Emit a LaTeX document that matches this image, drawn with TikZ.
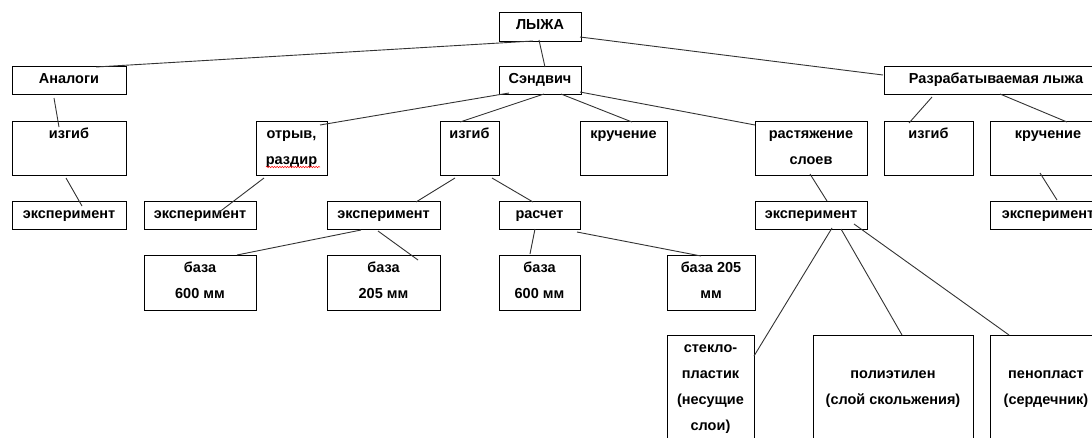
\documentclass[tikz,border=0pt]{standalone}
\usepackage{fontspec}
\setmainfont{Liberation Sans}
\usetikzlibrary{decorations.pathmorphing}
\tikzset{
  bx/.style={draw=black, line width=1pt, inner sep=0pt, outer sep=0pt, anchor=north west,
    font=\bfseries\fontsize{14.5}{26}\selectfont},
  ln/.style={draw=black!80, line width=0.9pt},
  squig/.style={draw=red, line width=0.5pt, decorate, decoration={snake, amplitude=0.7pt, segment length=2.6pt}}
}
\newcommand{\bxn}[6]{\node[bx] (#1) at (#2,#3) {\parbox[t][#5pt][t]{#4pt}{\centering\rule{0pt}{17.5pt}#6}};}
\newcommand{\cn}[6]{\draw[ln] ([shift={(#2,#3)}]#1.north west) -- ([shift={(#5,#6)}]#4.north west);}
\begin{document}
\begin{tikzpicture}[x=1pt,y=-1pt]
\useasboundingbox (0,0) rectangle (1092,437);
\fill[white] (0,0) rectangle (1092,437);
\clip (0,0) rectangle (1092,437);
% row 1
\bxn{lyzha}{499}{12}{82}{29}{ЛЫЖА}
% row 2
\bxn{analogi}{12}{66}{114}{28}{Аналоги}
\bxn{sandwich}{499}{66}{82}{28}{Сэндвич}
\bxn{razr}{884}{66}{224}{28}{Разрабатываемая лыжа}
% row 3
\bxn{izgibA}{12}{121}{114}{54}{изгиб}
\bxn{otryv}{256}{121}{71}{54}{отрыв,\\раздир}
\bxn{izgibS}{440}{121}{59}{54}{изгиб}
\bxn{kruchS}{580}{121}{87}{54}{кручение}
\bxn{rast}{755}{121}{112}{54}{растяжение\\слоев}
\bxn{izgibR}{884}{121}{89}{54}{изгиб}
\bxn{kruchR}{990}{121}{116}{54}{кручение}
% row 4
\bxn{ekspA}{12}{201}{114}{28}{эксперимент}
\bxn{ekspO}{144}{201}{112}{28}{эксперимент}
\bxn{ekspI}{327}{201}{113}{28}{эксперимент}
\bxn{raschet}{499}{201}{81}{28}{расчет}
\bxn{ekspR}{755}{201}{112}{28}{эксперимент}
\bxn{ekspK}{990}{201}{116}{28}{эксперимент}
% row 5
\bxn{baza1}{144}{255}{112}{55}{база\\600 мм}
\bxn{baza2}{327}{255}{113}{55}{база\\205 мм}
\bxn{baza3}{499}{255}{81}{55}{база\\600 мм}
\bxn{baza4}{667}{255}{88}{55}{база 205\\мм}
% row 6
\bxn{steklo}{667}{335}{87}{120}{стекло-\\пластик\\(несущие\\слои)}
\bxn{poly}{813}{335}{160}{120}{\mbox{}\\полиэтилен\\(слой скольжения)}
\bxn{peno}{990}{335}{112}{120}{\mbox{}\\пенопласт\\(сердечник)}
% spell-check underline
\draw[squig] ([shift={(10,46)}]otryv.north west) -- ([shift={(64,46)}]otryv.north west);
% connectors
\cn{lyzha}{34}{29}{analogi}{84}{1}
\cn{lyzha}{40}{28}{sandwich}{46}{1}
\cn{lyzha}{81}{25}{razr}{-1}{9}
\cn{analogi}{42}{32}{izgibA}{47}{6}
\cn{izgibA}{54}{57}{ekspA}{70}{5}
\cn{sandwich}{10}{27}{otryv}{64}{4}
\cn{sandwich}{45}{28}{izgibS}{20}{1}
\cn{sandwich}{62}{28}{kruchS}{52}{1}
\cn{sandwich}{81}{26}{rast}{0}{4}
\cn{otryv}{8}{57}{ekspO}{74}{12}
\cn{izgibS}{15}{57}{ekspI}{89}{1}
\cn{izgibS}{52}{57}{raschet}{34}{1}
\cn{ekspI}{34}{29}{baza1}{93}{0}
\cn{ekspI}{51}{30}{baza2}{91}{5}
\cn{raschet}{36}{28}{baza3}{31}{-1}
\cn{raschet}{78}{31}{baza4}{34}{1}
\cn{rast}{55}{53}{ekspR}{72}{0}
\cn{ekspR}{77}{27}{steklo}{87}{21}
\cn{ekspR}{86}{28}{poly}{89}{0}
\cn{ekspR}{99}{23}{peno}{19}{0}
\cn{razr}{48}{31}{izgibR}{25}{2}
\cn{razr}{116}{28}{kruchR}{77}{1}
\cn{kruchR}{50}{52}{ekspK}{67}{-1}
\end{tikzpicture}
\end{document}
